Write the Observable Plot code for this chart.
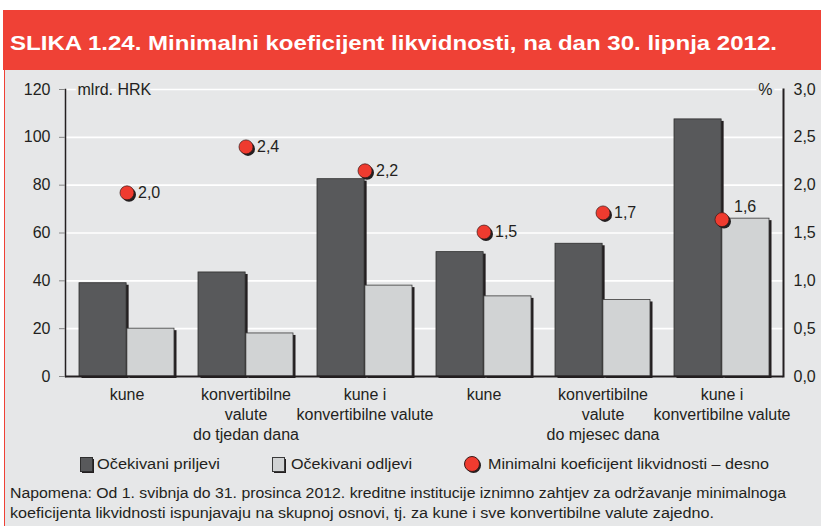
<!DOCTYPE html>
<html>
<head>
<meta charset="utf-8">
<script src="https://cdn.jsdelivr.net/npm/d3@7"></script>
<script src="https://cdn.jsdelivr.net/npm/@observablehq/plot@0.6"></script>
<style>
  body { margin: 0; background: #fff; }
  #wrap { position: relative; width: 821px; height: 526px; overflow: hidden; font-family: 'Liberation Sans', Arial, sans-serif; color: #231f20; }
  .abs { position: absolute; white-space: nowrap; transform-origin: 0 50%; }
</style>
</head>
<body>
<div id="wrap">
  <div class="abs" style="left:3px;top:10px;width:818px;height:60px;background:#ef4136"></div>
  <div id="title" class="abs fit" data-w="767" style="left:10px;top:32px;line-height:22px;color:#fff;font-weight:bold;font-size:21px;font-family:'Liberation Sans Narrow','Liberation Sans',Arial,sans-serif">SLIKA 1.24. Minimalni koeficijent likvidnosti, na dan 30. lipnja 2012.</div>
  <div class="abs" style="left:4px;top:70px;width:817px;height:456px;background:#e6e7e8;border-left:1.5px solid #ef4136"></div>
  <div id="chart" class="abs" style="left:0;top:70px"></div>
  <div id="legend"></div>
  <div id="note"></div>
</div>
<script>
// ---- data ----
const categoryLabels = [
  "kune",
  "konvertibilne\nvalute\ndo tjedan dana",
  "kune i\nkonvertibilne valute",
  "kune",
  "konvertibilne\nvalute\ndo mjesec dana",
  "kune i\nkonvertibilne valute"
];
const inflows  = [39, 43.5, 82.5, 52, 55.5, 107.5];   // Očekivani priljevi, mlrd. HRK
const outflows = [20, 18, 38, 33.5, 32, 66];          // Očekivani odljevi, mlrd. HRK
const ratioPct = [1.92, 2.40, 2.15, 1.51, 1.71, 1.64]; // Minimalni koeficijent likvidnosti, %
const ratioLabels = ["2,0", "2,4", "2,2", "1,5", "1,7", "1,6"];
const leftTicks  = [0, 20, 40, 60, 80, 100, 120];
const rightTicks = [0, 0.5, 1.0, 1.5, 2.0, 2.5, 3.0];
const seriesNames = ["Očekivani priljevi", "Očekivani odljevi", "Minimalni koeficijent likvidnosti – desno"];
const noteLines = [
  "Napomena: Od 1. svibnja do 31. prosinca 2012. kreditne institucije iznimno zahtjev za održavanje minimalnoga",
  "koeficijenta likvidnosti ispunjavaju na skupnoj osnovi, tj. za kune i sve konvertibilne valute zajedno."
];

// ---- build ----
const ids = categoryLabels.map((_, i) => i);
const ratioScale = leftTicks[leftTicks.length - 1] / rightTicks[rightTicks.length - 1];
const rows = ids.map(i => ({
  id: i, inflow: inflows[i], outflow: outflows[i],
  pct: ratioPct[i], y2: ratioPct[i] * ratioScale, label: ratioLabels[i]
}));

const W = 821, H = 380, mL = 65, mR = 38, mT = 19, mB = 74;
const padIn = 0.2, padOut = 0.1;
const step = (W - mL - mR) / (ids.length - padIn + 2 * padOut);
const half = step * (1 - padIn) / 2;

const DARK = "#58595b", LIGHT = "#d1d3d4", RED = "#ef3b2f", INK = "#231f20", BG = "#e6e7e8";

const chart = Plot.plot({
  width: W, height: H,
  marginLeft: mL, marginRight: mR, marginTop: mT, marginBottom: mB,
  style: { fontFamily: "'Liberation Sans', Arial, sans-serif", fontSize: "16px", color: INK, background: "transparent", overflow: "visible" },
  x: { type: "band", domain: ids, paddingInner: padIn, paddingOuter: padOut },
  y: { domain: [0, 120] },
  marks: [
    Plot.gridY(leftTicks, { stroke: "#fff", strokeOpacity: 1, strokeWidth: 1.6 }),
    // shadows
    Plot.barY(rows, { x: "id", y: "inflow", insetRight: half, dx: 2.5, dy: 2, fill: INK }),
    Plot.barY(rows, { x: "id", y: "outflow", insetLeft: half, dx: 2.5, dy: 2, fill: INK }),
    // bars
    Plot.barY(rows, { x: "id", y: "inflow", insetRight: half, fill: DARK, stroke: "#2e2e2e", strokeWidth: 0.8 }),
    Plot.barY(rows, { x: "id", y: "outflow", insetLeft: half, fill: LIGHT, stroke: "#3a3a3a", strokeWidth: 0.8 }),
    Plot.ruleY([0], { stroke: INK, strokeWidth: 2 }),
    Plot.frame({ anchor: "left", stroke: INK, strokeWidth: 1.5 }),
    Plot.frame({ anchor: "right", stroke: INK, strokeWidth: 2 }),
    Plot.axisY(leftTicks, { anchor: "left", tickSize: 6, tickPadding: 9, stroke: "#888", fill: INK, label: null }),
    Plot.axisY(leftTicks, { anchor: "right", tickSize: 0, tickPadding: 10, fill: INK, label: null,
      tickFormat: d => rightTicks[leftTicks.indexOf(d)].toFixed(1).replace(".", ",") }),
    Plot.axisX(ids, { anchor: "bottom", tickSize: 0, tickPadding: 9, lineHeight: 1.25, fill: INK, label: null,
      tickFormat: i => categoryLabels[i] }),
    // unit labels
    Plot.text(["mlrd. HRK"], { frameAnchor: "top-left", dx: 12, textAnchor: "start", lineAnchor: "middle", fill: INK, stroke: BG, strokeWidth: 5, paintOrder: "stroke" }),
    Plot.text(["%"], { frameAnchor: "top-right", dx: -11, textAnchor: "end", lineAnchor: "middle", fill: INK, stroke: BG, strokeWidth: 5, paintOrder: "stroke" }),
    // dots
    Plot.dot(rows, { x: "id", y: "y2", r: 7, dx: 2, dy: 2, fill: INK }),
    Plot.dot(rows, { x: "id", y: "y2", r: 7, fill: RED, stroke: "#3a1a18", strokeWidth: 0.7 }),
    Plot.text(rows.filter(d => d.id < 5), { x: "id", y: "y2", text: "label", dx: 11, textAnchor: "start", fill: INK }),
    Plot.text(rows.filter(d => d.id === 5), { x: "id", y: "y2", text: "label", dx: 12, dy: -13, textAnchor: "start", fill: INK })
  ]
});
document.getElementById("chart").appendChild(chart);

// ---- legend ----
const legend = document.getElementById("legend");
legend.innerHTML = `
  <div class="abs" style="left:82px;top:459px;width:12px;height:14px;background:${INK}"></div>
  <div class="abs" style="left:80px;top:457px;width:11px;height:13px;background:${DARK};border:0.8px solid #2e2e2e"></div>
  <div class="abs fit" data-w="123" style="left:97px;top:455px;line-height:18px;font-size:15.5px">${seriesNames[0]}</div>
  <div class="abs" style="left:274px;top:459px;width:12px;height:14px;background:${INK}"></div>
  <div class="abs" style="left:272px;top:457px;width:11px;height:13px;background:${LIGHT};border:0.8px solid #3a3a3a"></div>
  <div class="abs fit" data-w="121" style="left:291px;top:455px;line-height:18px;font-size:15.5px">${seriesNames[1]}</div>
  <div class="abs" style="left:466px;top:458px;width:15px;height:15px;border-radius:50%;background:${INK}"></div>
  <div class="abs" style="left:464px;top:456px;width:14px;height:14px;border-radius:50%;background:${RED};border:0.7px solid #3a1a18"></div>
  <div class="abs fit" data-w="281" style="left:488px;top:455px;line-height:18px;font-size:15.5px">${seriesNames[2]}</div>
`;
const note = document.getElementById("note");
note.innerHTML = `
  <div class="abs fit" data-w="776" style="left:10px;top:484px;line-height:18px;font-size:15.5px">${noteLines[0]}</div>
  <div class="abs fit" data-w="704" style="left:10px;top:504px;line-height:18px;font-size:15.5px">${noteLines[1]}</div>
`;
document.querySelectorAll(".fit").forEach(el => {
  const w = el.getBoundingClientRect().width;
  const target = +el.dataset.w;
  if (w > 0) el.style.transform = `scaleX(${target / w})`;
});
</script>
</body>
</html>
